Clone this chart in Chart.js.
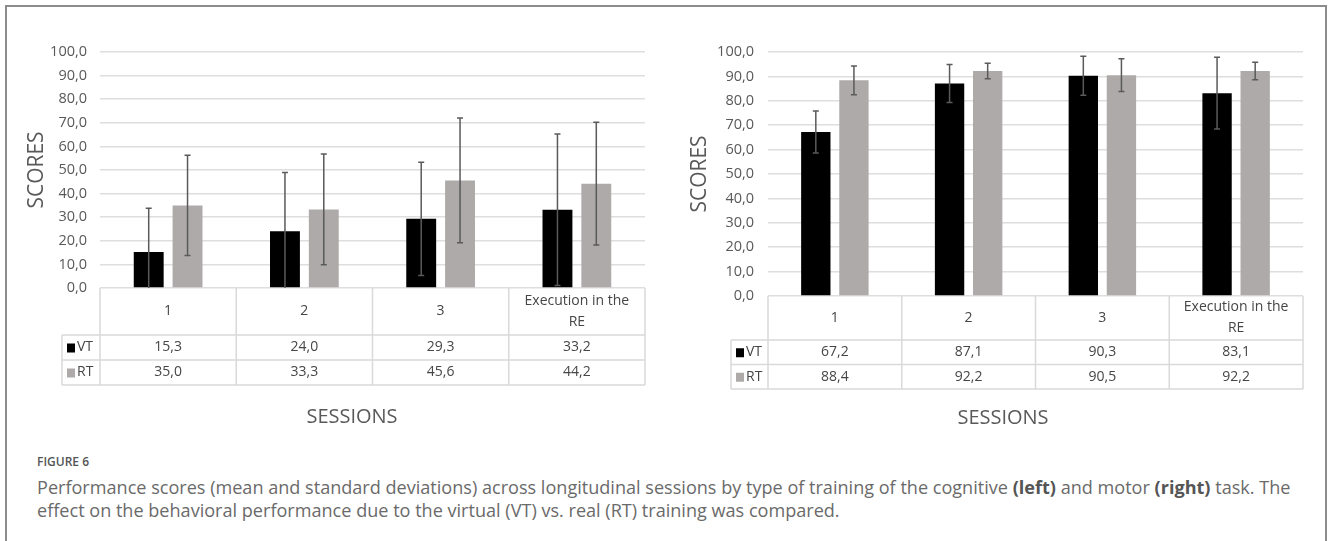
<!DOCTYPE html>
<html lang="en">
<head>
    <meta charset="UTF-8">
    <title>Figure 6 - Performance scores by session</title>
    <script src="https://cdn.jsdelivr.net/npm/chart.js"></script>
    <style>
        body {
            margin: 0;
            width: 1328px;
            height: 541px;
            overflow: hidden;
            background: #fff;
            font-family: 'Open Sans', sans-serif;
            position: relative;
        }
        .frame {
            position: absolute;
            left: 5px;
            top: 5px;
            width: 1322px;
            height: 600px;
            border: 2px solid #8c8c8c;
            box-sizing: border-box;
        }
        .chart-box {
            position: absolute;
            top: 0;
            height: 440px;
        }
        #leftBox { left: 0; width: 660px; }
        #rightBox { left: 660px; width: 668px; }
        .fig-label {
            position: absolute;
            left: 37px;
            top: 454px;
            font-size: 12px;
            font-weight: 600;
            line-height: 16px;
            color: #555;
        }
        .cap-line {
            position: absolute;
            left: 37px;
            white-space: nowrap;
            font-size: 16px;
            line-height: 22px;
            color: #6a6a6a;
        }
        .cap-line b { color: #555; }
        #cap1 { top: 476px; }
        #cap2 { top: 499px; }
    </style>
</head>
<body>
    <div class="frame"></div>
    <div class="chart-box" id="leftBox"><canvas id="cognitiveChart" width="660" height="440"></canvas></div>
    <div class="chart-box" id="rightBox"><canvas id="motorChart" width="668" height="440"></canvas></div>

    <div class="fig-label">FIGURE 6</div>
    <div class="cap-line" id="cap1">Performance scores (mean and standard deviations) across longitudinal sessions by type of training of the cognitive <b>(left)</b> and motor <b>(right)</b> task. The</div>
    <div class="cap-line" id="cap2">effect on the behavioral performance due to the virtual (VT) vs. real (RT) training was compared.</div>

    <script>
        // sessions (x categories)
        const sessions = ['1', '2', '3', ['Execution in the', 'RE']];

        // cognitive task: means and standard deviations
        const cognitiveVT = [15.3, 24.0, 29.3, 33.2];
        const cognitiveRT = [35.0, 33.3, 45.6, 44.2];
        const cognitiveVTsd = [18.5, 24.9, 24.0, 32.1];
        const cognitiveRTsd = [21.2, 23.5, 26.4, 26.0];

        // motor task: means and standard deviations
        const motorVT = [67.2, 87.1, 90.3, 83.1];
        const motorRT = [88.4, 92.2, 90.5, 92.2];
        const motorVTsd = [8.6, 7.8, 8.0, 14.7];
        const motorRTsd = [5.9, 3.2, 6.7, 3.6];

        // score axis
        const yMin = 0;
        const yMax = 100;
        const yStep = 10;

        const VT_COLOR = '#000000';
        const RT_COLOR = '#aeaaaa';
        const TEXT = '#595959';
        const CELL_TEXT = '#464646';
        const FONT = "'Open Sans', sans-serif";

        const fmt = v => v.toFixed(1).replace('.', ',');

        // whiskers for +/- 1 SD, clipped at the bottom of the axis like Excel does
        const errorBars = {
            id: 'errorBars',
            afterDatasetsDraw(chart) {
                const { ctx } = chart;
                const y = chart.scales.y;
                ctx.save();
                ctx.strokeStyle = '#5a5a5a';
                ctx.lineWidth = 1.5;
                chart.data.datasets.forEach((ds, i) => {
                    chart.getDatasetMeta(i).data.forEach((bar, j) => {
                        const v = ds.data[j];
                        const sd = ds.sd[j];
                        const yHi = y.getPixelForValue(v + sd);
                        const clipped = v - sd < y.min;
                        const yLo = y.getPixelForValue(clipped ? y.min : v - sd);
                        ctx.beginPath();
                        ctx.moveTo(bar.x, yHi);
                        ctx.lineTo(bar.x, yLo);
                        ctx.moveTo(bar.x - 3, yHi);
                        ctx.lineTo(bar.x + 3, yHi);
                        if (!clipped) {
                            ctx.moveTo(bar.x - 3, yLo);
                            ctx.lineTo(bar.x + 3, yLo);
                        }
                        ctx.stroke();
                    });
                });
                ctx.restore();
            }
        };

        // data table under the plot, with the legend keys in the first column
        const dataTable = {
            id: 'dataTable',
            afterDraw(chart, args, opts) {
                const { ctx, chartArea } = chart;
                const { left, right, bottom } = chartArea;
                const x = chart.scales.x;
                const n = chart.data.labels.length;
                const headBot = bottom + opts.headerHeight;
                const rows = chart.data.datasets.map((ds, i) => headBot + opts.rowHeight * i);
                const tableBot = headBot + opts.rowHeight * chart.data.datasets.length;

                const bounds = [left];
                for (let k = 1; k < n; k++) {
                    bounds.push((x.getPixelForTick(k - 1) + x.getPixelForTick(k)) / 2);
                }
                bounds.push(right);

                ctx.save();
                ctx.strokeStyle = '#d9d9d9';
                ctx.lineWidth = 1.5;
                ctx.beginPath();
                // vertical cell borders
                bounds.forEach(bx => {
                    ctx.moveTo(bx, bottom);
                    ctx.lineTo(bx, tableBot);
                });
                ctx.moveTo(opts.legendLeft, headBot);
                ctx.lineTo(opts.legendLeft, tableBot);
                // horizontal cell borders
                rows.concat([tableBot]).forEach(ry => {
                    ctx.moveTo(opts.legendLeft, ry);
                    ctx.lineTo(right, ry);
                });
                ctx.stroke();

                ctx.fillStyle = CELL_TEXT;
                ctx.font = '14px ' + FONT;
                ctx.textAlign = 'center';
                ctx.textBaseline = 'middle';

                // header: session names
                chart.data.labels.forEach((lab, k) => {
                    const lines = Array.isArray(lab) ? lab : [lab];
                    const cx = x.getPixelForTick(k);
                    const cy = bottom + opts.headerHeight / 2;
                    lines.forEach((t, li) => {
                        ctx.fillText(t, cx, cy + (li - (lines.length - 1) / 2) * 21);
                    });
                });

                // one row per series
                chart.data.datasets.forEach((ds, i) => {
                    const cy = rows[i] + opts.rowHeight / 2;
                    ctx.fillStyle = ds.backgroundColor;
                    ctx.fillRect(opts.legendLeft + 5, cy - 4, 8, 9);
                    ctx.fillStyle = CELL_TEXT;
                    ctx.textAlign = 'left';
                    ctx.fillText(ds.label, opts.legendLeft + 15, cy);
                    ctx.textAlign = 'center';
                    ds.data.forEach((v, k) => {
                        ctx.fillText(fmt(v), x.getPixelForTick(k), cy);
                    });
                });

                // axis title under the table
                ctx.fillStyle = TEXT;
                ctx.font = '20px ' + FONT;
                ctx.fillText('SESSIONS', opts.titleX, opts.titleY);
                ctx.restore();
            }
        };

        function makeChart(canvasId, vt, vtSd, rt, rtSd, layout) {
            return new Chart(document.getElementById(canvasId), {
                type: 'bar',
                data: {
                    labels: sessions,
                    datasets: [
                        { label: 'VT', data: vt, sd: vtSd, backgroundColor: VT_COLOR },
                        { label: 'RT', data: rt, sd: rtSd, backgroundColor: RT_COLOR }
                    ]
                },
                options: {
                    responsive: false,
                    animation: false,
                    categoryPercentage: 0.57,
                    barPercentage: 0.77,
                    layout: {
                        padding: { left: 0, right: layout.padRight, top: layout.padTop, bottom: layout.padBottom }
                    },
                    plugins: {
                        legend: { display: false },
                        tooltip: { enabled: false },
                        dataTable: layout.table
                    },
                    scales: {
                        x: { display: false },
                        y: {
                            min: yMin,
                            max: yMax,
                            border: { display: false },
                            grid: { color: '#dedede', lineWidth: 1.5, drawTicks: false },
                            ticks: {
                                stepSize: yStep,
                                padding: layout.tickPad,
                                color: TEXT,
                                font: { family: FONT, size: 14.5 },
                                callback: v => fmt(v)
                            },
                            title: {
                                display: true,
                                text: 'SCORES',
                                color: TEXT,
                                font: { family: FONT, size: 21 },
                                padding: { top: layout.titlePad, bottom: 0 }
                            },
                            afterFit: s => { s.width = layout.axisWidth; }
                        }
                    }
                },
                plugins: [errorBars, dataTable]
            });
        }

        makeChart('cognitiveChart', cognitiveVT, cognitiveVTsd, cognitiveRT, cognitiveRTsd, {
            axisWidth: 100, padRight: 15, padTop: 52, padBottom: 152, tickPad: 13, titlePad: 24,
            table: { headerHeight: 47, rowHeight: 25, legendLeft: 62, titleX: 352, titleY: 417 }
        });

        makeChart('motorChart', motorVT, motorVTsd, motorRT, motorRTsd, {
            axisWidth: 108, padRight: 25, padTop: 52, padBottom: 144, tickPad: 14, titlePad: 27,
            table: { headerHeight: 44, rowHeight: 24.5, legendLeft: 71, titleX: 343, titleY: 418 }
        });

        // stretch the first caption line to the width of the text block
        const cap1 = document.getElementById('cap1');
        const cap2 = document.getElementById('cap2');
        const size = 16 * 1254 / cap1.offsetWidth;
        cap1.style.fontSize = size + 'px';
        cap2.style.fontSize = size + 'px';
    </script>
</body>
</html>
